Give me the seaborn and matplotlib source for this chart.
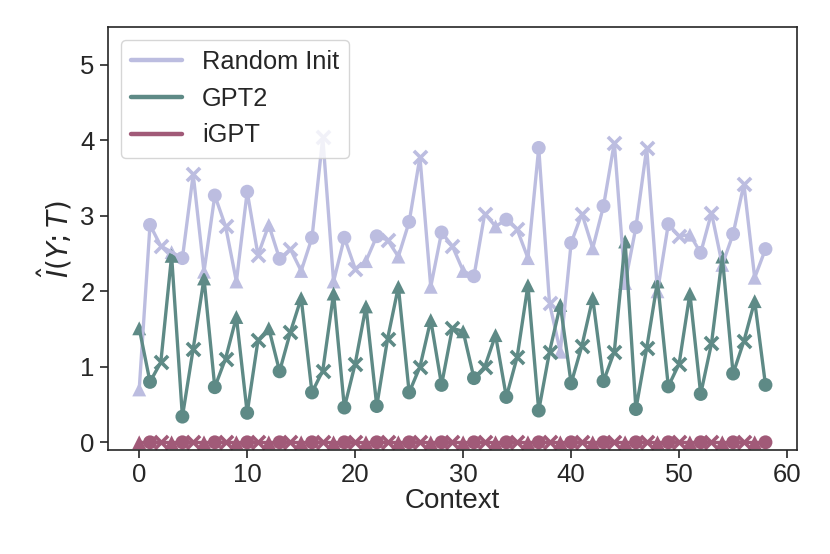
import pandas as pd
import matplotlib
matplotlib.use("Agg")
import matplotlib.pyplot as plt
import seaborn as sns

# ---- data ----
context = list(range(59))

random_init = [0.70, 2.88, 2.60, 2.52, 2.44, 3.55, 2.26, 3.27, 2.86, 2.13,
               3.32, 2.48, 2.88, 2.43, 2.56, 2.27, 2.71, 4.04, 2.13, 2.71,
               2.30, 2.40, 2.73, 2.68, 2.46, 2.92, 3.78, 2.06, 2.78, 2.60,
               2.27, 2.20, 3.03, 2.86, 2.95, 2.82, 2.44, 3.90, 1.84, 1.20,
               2.64, 3.03, 2.57, 3.13, 3.97, 2.11, 2.85, 3.90, 2.00, 2.89,
               2.73, 2.75, 2.51, 3.04, 2.35, 2.76, 3.42, 2.18, 2.56]

gpt2 = [1.51, 0.80, 1.06, 2.47, 0.34, 1.24, 2.17, 0.73, 1.11, 1.66,
        0.39, 1.35, 1.51, 0.94, 1.46, 1.91, 0.66, 0.95, 1.97, 0.46,
        1.04, 1.80, 0.48, 1.37, 2.06, 0.66, 1.00, 1.62, 0.76, 1.51,
        1.47, 0.85, 1.00, 1.42, 0.60, 1.13, 2.08, 0.42, 1.20, 1.82,
        0.78, 1.28, 1.91, 0.81, 1.20, 2.66, 0.44, 1.25, 2.13, 0.74,
        1.04, 1.97, 0.64, 1.31, 2.46, 0.91, 1.34, 1.87, 0.76]

igpt = [0.00, 0.00, 0.00, 0.00, 0.00, 0.00, 0.00, 0.00, 0.00, 0.00,
        0.00, 0.00, 0.00, 0.00, 0.00, 0.00, 0.00, 0.00, 0.00, 0.00,
        0.00, 0.00, 0.00, 0.00, 0.00, 0.00, 0.00, 0.00, 0.00, 0.00,
        0.00, 0.00, 0.00, 0.00, 0.00, 0.00, 0.00, 0.00, 0.00, 0.00,
        0.00, 0.00, 0.00, 0.00, 0.00, 0.00, 0.00, 0.00, 0.00, 0.00,
        0.00, 0.00, 0.00, 0.00, 0.00, 0.00, 0.00, 0.00, 0.00]

models = ["Random Init", "GPT2", "iGPT"]
colors = {"Random Init": "#bcbde0", "GPT2": "#5e8a86", "iGPT": "#a15a78"}
marker_cycle = ["^", "o", "x"]   # marker repeats every 3 context steps

# ---- long-format table ----
frames = []
for name, vals in zip(models, [random_init, gpt2, igpt]):
    frames.append(pd.DataFrame({
        "Context": context,
        "MI": vals,
        "Model": name,
        "Marker": [marker_cycle[c % 3] for c in context],
    }))
df = pd.concat(frames, ignore_index=True)

# ---- plot ----
sns.set_theme(style="ticks")
plt.rcParams["font.family"] = ["Liberation Sans", "DejaVu Sans"]
plt.rcParams["font.size"] = 18

fig, ax = plt.subplots(figsize=(8.3, 5.54), dpi=100)

for name in models:
    sub = df[df["Model"] == name]
    sns.lineplot(data=sub, x="Context", y="MI", color=colors[name],
                 linewidth=2.4, label=name, ax=ax)
    for m in marker_cycle:
        part = sub[sub["Marker"] == m]
        if m == "x":
            sns.scatterplot(data=part, x="Context", y="MI", color=colors[name],
                            marker=m, s=90, linewidth=2.6, legend=False, ax=ax)
        else:
            sns.scatterplot(data=part, x="Context", y="MI", color=colors[name],
                            marker=m, s=100, edgecolor="none", legend=False, ax=ax)

ax.set_ylim(-0.1, 5.5)
ax.set_yticks([0, 1, 2, 3, 4, 5])
ax.set_xticks([0, 10, 20, 30, 40, 50, 60])
ax.tick_params(labelsize=18.5, length=6, width=1.2)
ax.set_xlabel("Context", fontsize=20, labelpad=1)
ax.set_ylabel(r"$\hat{I}(Y;T)$", fontsize=20)
for s in ax.spines.values():
    s.set_linewidth(1.2)

leg = ax.legend(loc="upper left", fontsize=18.3, handlelength=2.0)
for line in leg.get_lines():
    line.set_linewidth(3.2)

plt.subplots_adjust(left=0.130, right=0.960, top=0.951, bottom=0.188)
plt.savefig("out.png", dpi=100)
